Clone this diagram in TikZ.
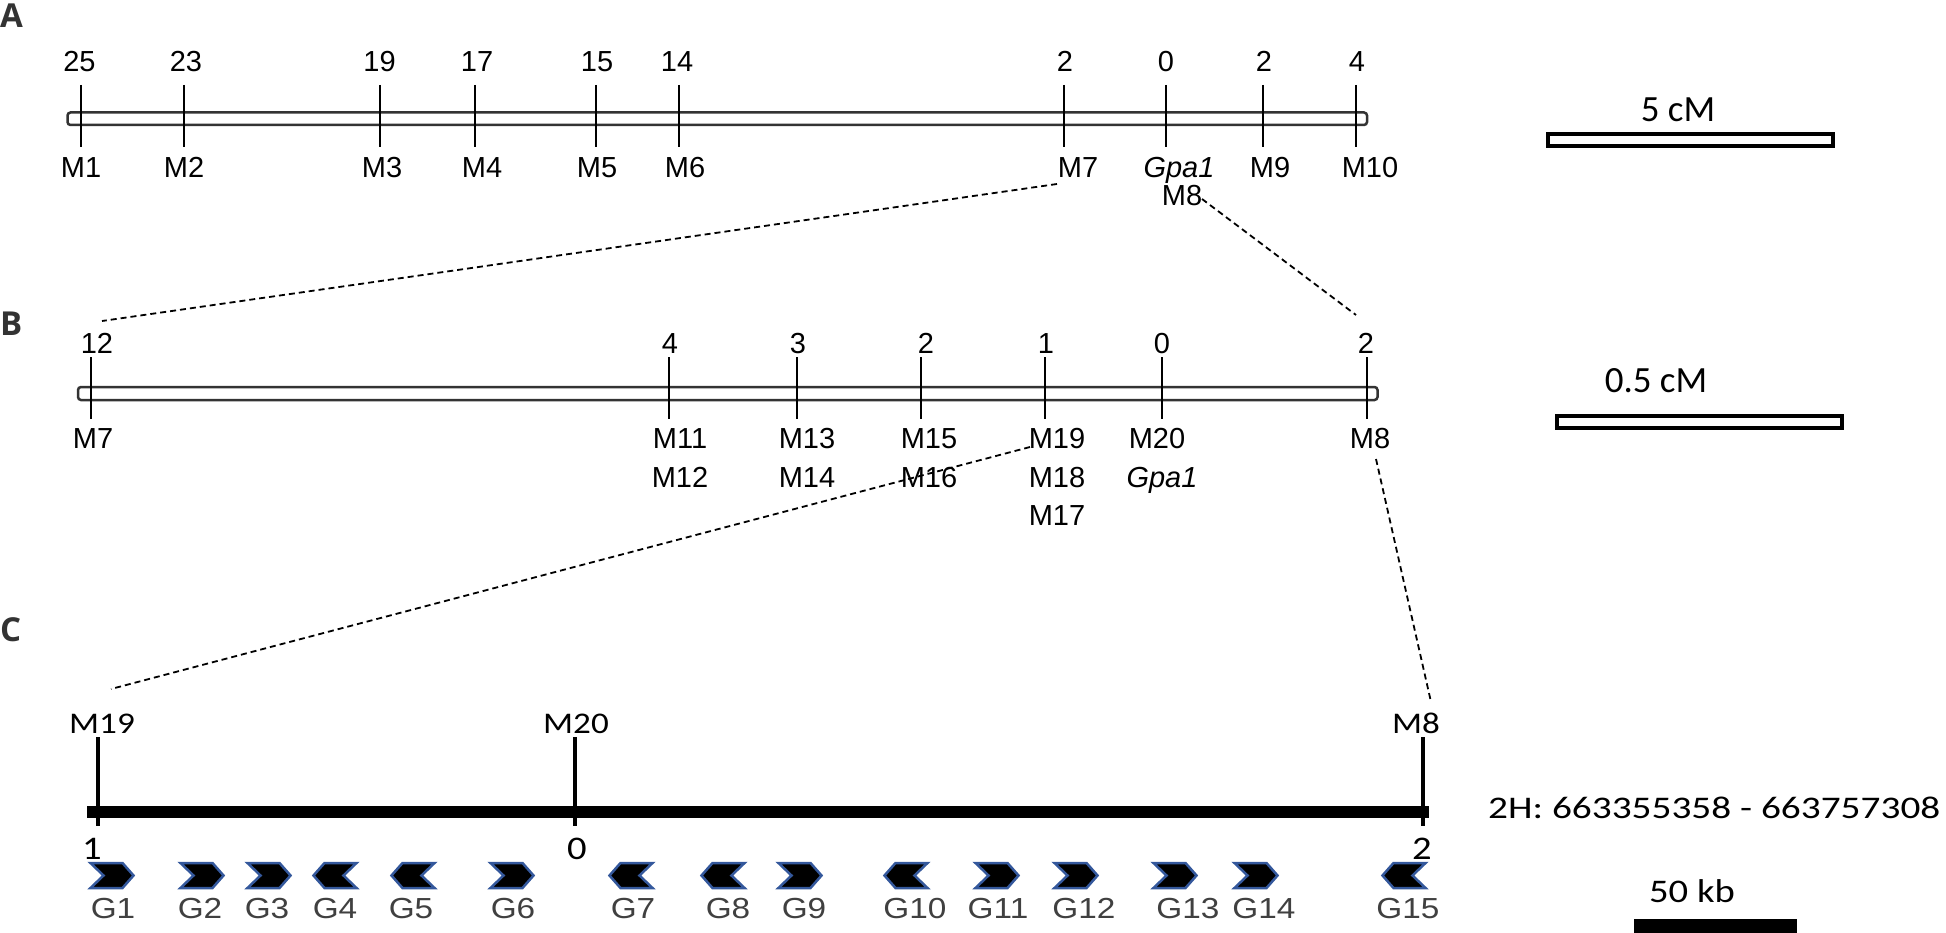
\documentclass[tikz,border=0pt]{standalone}
\usepackage{fontspec}
\setmainfont{Liberation Sans}
\newfontfamily\calfont{Carlito}
\newfontfamily\panelfont{Open Sans}
\usepackage{graphicx}
\definecolor{geneblue}{RGB}{52,88,156}
\definecolor{dgray}{RGB}{51,51,51}
\definecolor{glab}{RGB}{64,64,64}
\newcommand\cx[1]{\scalebox{1.17}[1]{#1}}
\begin{document}
\begin{tikzpicture}[x=1pt,y=-1pt,
  lab/.style={inner sep=0pt, anchor=base, font=\fontsize{29}{30}\selectfont},
  clab/.style={inner sep=0pt, anchor=base, font=\calfont\fontsize{30}{30}\selectfont},
  cnum/.style={inner sep=0pt, anchor=base, font=\calfont\fontsize{33}{33}\selectfont},
  scaletxt/.style={inner sep=0pt, anchor=base, font=\calfont\fontsize{37}{37}\selectfont},
  glabel/.style={inner sep=0pt, anchor=base, text=glab, font=\fontsize{29}{30}\selectfont},
  panel/.style={inner sep=0pt, anchor=base west, text=dgray, font=\panelfont\bfseries\fontsize{33}{33}\selectfont},
  chrom/.style={draw=dgray, line width=2.5pt, fill=white, rounded corners=3pt},
  tick/.style={line width=2pt, black},
  ctick/.style={line width=4pt, black},
  scalebar/.style={draw=black, line width=4pt, fill=white},
  link/.style={line width=1.8pt, dash pattern=on 6pt off 4pt},
  gene/.style={fill=black, draw=geneblue, line width=2.5pt, line join=miter},
  chev/.pic={\filldraw[gene] (-21.5,-12.5) -- (10.5,-12.5) -- (21.5,0) -- (10.5,12.5) -- (-21.5,12.5) -- (-8.5,0) -- cycle;}
]
\useasboundingbox (0,0) rectangle (1946,933);

% ---------- panel letters ----------
\node[panel] (pA) at (0,28) {A};
\node[panel] (pB) at (0,335) {B};
\node[panel] (pC) at (0,641) {C};

% ---------- panel A ----------
\draw[chrom] (67.5,112.5) rectangle (1367,125);
\foreach \x/\nx/\n/\lx/\l [count=\i] in {80.5/79.5/25/81/M1, 184/186/23/184/M2, 379.5/379.5/19/382/M3, 474.5/477/17/482/M4, 595.5/597/15/597/M5, 678.5/677/14/685/M6, 1064/1065/2/1078/M7, 1263/1264/2/1270/M9, 1356/1357/4/1370/M10}{
  \draw[tick] (\x,85) -- (\x,147);
  \node[lab] (aN\i) at (\nx,72) {\n};
  \node[lab] (aM\i) at (\lx,178) {\l};
}
\draw[tick] (1166,85) -- (1166,147);
\node[lab] (aN0) at (1166,72) {0};
\node[lab] (aGpa) at (1179,178) {\itshape Gpa1};
\node[lab] (aM8) at (1182,206) {M8};

% scale 5 cM
\node[scaletxt] (s5) at (1678,122) {5 cM};
\draw[scalebar] (1548,134) rectangle (1833,146);

% ---------- panel B ----------
\draw[chrom] (78,387) rectangle (1377.5,400);
\foreach \x/\nx/\n/\lx/\l [count=\i] in {91/97/12/93/M7, 669/670/4/680/M11, 797/798/3/807/M13, 921/926/2/929/M15, 1045/1046/1/1057/M19, 1162/1162/0/1157/M20, 1367/1366/2/1370/M8}{
  \draw[tick] (\x,357) -- (\x,419);
  \node[lab] (bN\i) at (\nx,353) {\n};
  \node[lab] (bM\i) at (\lx,448) {\l};
}
\node[lab] (bM12) at (680,487) {M12};
\node[lab] (bM14) at (807,487) {M14};
\node[lab] (bM16) at (929,487) {M16};
\node[lab] (bM18) at (1057,487) {M18};
\node[lab] (bGpa) at (1162,487) {\itshape Gpa1};
\node[lab] (bM17) at (1057,525) {M17};

% scale 0.5 cM
\node[scaletxt] (s05) at (1656,392) {0.5 cM};
\draw[scalebar] (1557,416) rectangle (1842,428);

% ---------- panel C ----------
\draw[line width=12pt] (87,812) -- (1429,812);
\draw[ctick] (98,737) -- (98,826);
\draw[ctick] (575,737) -- (575,826);
\draw[ctick] (1423,737) -- (1423,826);
\node[clab] (cM19) at (102,733) {\cx{M19}};
\node[clab] (cM20) at (576,733) {\cx{M20}};
\node[clab] (cM8) at (1416,733) {\cx{M8}};
\node[cnum] (c1) at (92,859) {\cx{1}};
\node[cnum] (c0) at (577,859) {\cx{0}};
\node[cnum] (c2) at (1422,859) {\cx{2}};

\node[cnum, anchor=base west] (coord) at (1488,818) {\resizebox{452pt}{21.5pt}{2H: 663355358 - 663757308}};
\node[cnum] (s50) at (1692,902) {\cx{50 kb}};
\fill (1634,919) rectangle (1797,935);

% genes
\foreach \x/\s/\lx/\g in {112/1/113/G1, 202/1/200/G2, 269/1/267/G3, 335/-1/335/G4, 413/-1/411/G5, 512/1/513/G6, 631/-1/633/G7, 723/-1/728/G8, 800/1/804/G9, 906/-1/915/G10, 997/1/998/G11, 1076/1/1084/G12, 1175/1/1188/G13, 1256/1/1264/G14, 1404/-1/1408/G15}{
  \pic[xscale=\s] at (\x,875.5) {chev};
  \node[glabel] (lab\g) at (\lx,918) {\scalebox{1.15}[1]{\g}};
}

% ---------- zoom connectors ----------
\coordinate (l1a) at (1057,184);
\coordinate (l1b) at (102,321);
\coordinate (l2a) at (1202,199);
\coordinate (l2b) at (1356,315);
\coordinate (l3a) at (1030,447);
\coordinate (l3b) at (111,689);
\coordinate (l4a) at (1376,459);
\coordinate (l4b) at (1431,702);
\draw[link] (l1a) -- (l1b);
\draw[link] (l2a) -- (l2b);
\draw[link] (l3a) -- (l3b);
\draw[link] (l4a) -- (l4b);
\end{tikzpicture}
\end{document}
